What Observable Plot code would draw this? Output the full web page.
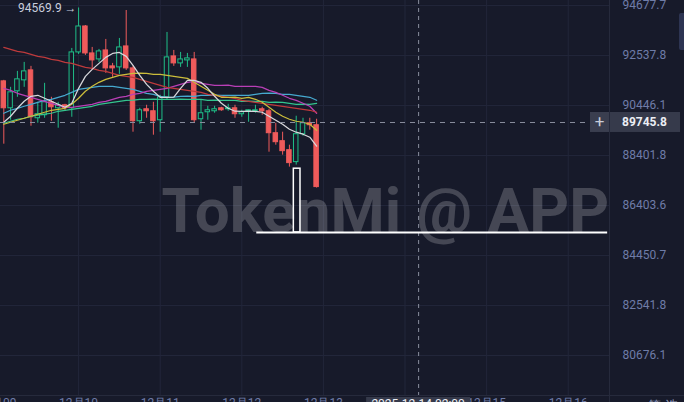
<!DOCTYPE html>
<html><head><meta charset="utf-8">
<script src="https://cdn.jsdelivr.net/npm/d3@7"></script>
<script src="https://cdn.jsdelivr.net/npm/@observablehq/plot@0.6"></script>
<style>
html,body{margin:0;padding:0;background:#171a2a;overflow:hidden;}
#chart{position:relative;width:684px;height:402px;overflow:hidden;}
</style></head><body><div id="chart"></div>
<script>
// ---- candle data (index, open, high, low, close) ----
const candleOpen  = [91450,90331,91035,91492,91910,89920,90044,90579,90331,90455,90331,92668,93774,92625,92372,92752,92078,92036,92922,91994,89797,90290,90208,89838,90786,92499,92204,92330,92372,89879,90167,90208,90331,90290,90331,90085,90208,90208,90290,90208,89307,88982,88617,88134,89266,89715,89634];
const candleHigh  = [91492,91201,91868,92246,92078,90579,91367,90786,90579,90496,92837,94569.9,93816,92880,92795,93220,92204,93262,94461,92078,90331,90455,90579,90869,93518,92752,92668,92625,92668,90661,90414,90414,90373,90496,90455,90249,90270,90455,90373,90290,89715,89348,88819,90003,89920,89920,89879];
const candleLow   = [88860,89838,90786,91201,89593,89715,89920,89797,89511,90208,89961,92583,92541,91994,92246,91785,91617,91743,91910,89348,89674,89920,89226,89348,90661,92078,92036,92036,89715,89429,89838,90126,90208,90208,89920,89961,89756,90126,90044,88536,88819,88416,87933,88014,89185,89429,87095];
const candleClose = [90331,90993,91534,91868,89961,90085,90579,90373,90455,90331,92668,93774,92625,92330,92710,91994,91994,92880,91994,89797,90249,90208,89797,90786,92457,92204,92372,92415,89838,90126,90249,90290,90249,90331,90085,90167,90249,90249,90208,89307,88941,88577,88094,89266,89715,89634,87134];

// ---- moving averages, one value per candle ----
const maWhite   = [89756,90003,90331,90620,90827,90869,90744,90620,90496,90373,90537,91159,91659,91952,92204,92457,92625,92668,92499,92120,91701,91326,91035,90786,90779,90790,91159,91492,91492,91409,91159,90827,90537,90331,90210,90204,90212,90200,90167,90003,89838,89674,89470,89348,89266,89144,88779];
const maYellow  = [89674,89756,89838,89920,90003,90085,90167,90249,90290,90331,90496,90744,91035,91242,91409,91534,91617,91701,91743,91785,91790,91780,91743,91740,91701,91659,91617,91576,91409,91242,91076,90910,90786,90780,90790,90744,90786,90703,90579,90373,90167,90003,89879,89797,89756,89674,89429];
const maCyan    = [90126,90249,90331,90414,90496,90579,90661,90703,90786,90869,90993,91118,91159,91201,91242,91245,91238,91201,91159,91118,91035,90952,90910,90827,90786,90790,90827,90830,90825,90869,90865,90872,90869,90866,90870,90868,90869,90910,90952,90955,90950,90910,90905,90869,90827,90786,90661];
const maMagenta = [91159,91076,90952,90869,90786,90703,90620,90537,90455,90373,90370,90414,90455,90496,90579,90620,90703,90786,90827,90910,90952,91035,91076,91118,91159,91242,91326,91409,91450,91367,91326,91284,91280,91288,91242,91245,91240,91242,91201,91076,90993,90869,90744,90661,90537,90414,90126];
const maGreen   = [89715,89797,89879,89920,90003,90044,90085,90126,90208,90249,90290,90331,90373,90414,90496,90537,90579,90620,90661,90665,90703,90700,90706,90703,90698,90703,90708,90703,90700,90703,90661,90665,90658,90661,90660,90620,90623,90618,90620,90579,90582,90576,90537,90496,90499,90494,90537];
const maRed     = [92879,92794,92710,92668,92583,92499,92457,92372,92330,92246,92204,92120,92036,91994,91910,91868,91785,91701,91659,91617,91534,91450,91367,91284,91201,91159,91118,91076,91035,90993,90910,90869,90827,90786,90744,90661,90620,90579,90537,90496,90455,90414,90373,90331,90290,90249,90167];

// ---- axes ----
const yTickValues = [94677.7,92537.8,90446.1,88401.8,86403.6,84450.7,82541.8,80676.1];
const yTickLabels = ["94677.7","92537.8","90446.1","88401.8","86403.6","84450.7","82541.8","80676.1"];
const xGridIndex  = [-1,11,23,35,47,59,71,83];
const xTickLabels = ["12月09","12月10","12月11","12月12","12月13","12月14","12月15","12月16"];
const cornerLabel = "筛 选";

// ---- crosshair & annotations ----
const crosshairIndex = 61;
const crosshairPrice = 89745.8;
const crosshairTime = "2025-12-14 02:00";
const annotBoxIndex = [42.65, 43.63];
const annotBoxPrice = [87870, 85345];
const annotLineIndex = [37.2, 88.8];
const annotLinePrice = 85345;
const watermark = "TokenMi @ APP";

const BG = "#171a2a", UP = "#1fbf88", DOWN = "#ef5b5b", GRID = "#22263a";

const candles = candleOpen.map((o, i) => ({i, o, h: candleHigh[i], l: candleLow[i], c: candleClose[i], up: candleClose[i] >= o}));
const maxCandle = candles.reduce((a, b) => (b.h > a.h ? b : a));
const maSeries = [
  {v: maGreen, color: "#33c48e"},
  {v: maCyan, color: "#46a9cf"},
  {v: maMagenta, color: "#b93fb6"},
  {v: maRed, color: "#be3a3c"},
  {v: maYellow, color: "#cbbd3b"},
  {v: maWhite, color: "#d8d8dc"}
];

const svg = Plot.plot({
  width: 684, height: 402,
  marginLeft: 0, marginRight: 75, marginTop: 0, marginBottom: 7,
  style: {background: BG, color: "#6f7ca8", fontFamily: "Roboto, 'Liberation Sans', sans-serif", fontSize: "12px"},
  x: {type: "linear", domain: [-0.485, 89.07], axis: null},
  y: {type: "log", domain: [79214, 94894], axis: null},
  marks: [
    Plot.ruleY(yTickValues, {stroke: GRID}),
    Plot.ruleX(xGridIndex, {stroke: GRID}),
    Plot.text([watermark], {frameAnchor: "top-left", dx: 161, dy: 187, lineAnchor: "top", textAnchor: "start",
      text: d => d, fontSize: 62, fontWeight: "bold", fontFamily: "Roboto, sans-serif", fill: "#ffffff", fillOpacity: 0.2}),
    Plot.ruleX(candles, {x: "i", y1: "l", y2: "h", stroke: d => d.up ? UP : DOWN, strokeWidth: 1}),
    Plot.rect(candles, {x1: d => d.i - 0.33, x2: d => d.i + 0.33, y1: "o", y2: "c",
      fill: d => d.up ? BG : DOWN, stroke: d => d.up ? UP : DOWN, strokeWidth: 1}),
    ...maSeries.map(s => Plot.line(s.v, {x: (d, i) => i, y: d => d, stroke: s.color, strokeWidth: 1.25})),
    Plot.ruleY([crosshairPrice], {stroke: "#8a8e9e", strokeDasharray: "5,5"}),
    Plot.ruleX([crosshairIndex], {stroke: "#8a8e9e", strokeDasharray: "4,4"}),
    Plot.rect([0], {x1: annotBoxIndex[0], x2: annotBoxIndex[1], y1: annotBoxPrice[0], y2: annotBoxPrice[1], fill: "none", stroke: "#ffffff", strokeWidth: 1.5}),
    Plot.ruleY([annotLinePrice], {x1: annotLineIndex[0], x2: annotLineIndex[1], stroke: "#ffffff", strokeWidth: 2}),
    Plot.text([maxCandle], {x: "i", y: "h", text: d => d.h.toFixed(1) + " \u2192", textAnchor: "end", dx: -2, fill: "#c9cede", fontSize: 12}),
    Plot.axisY(yTickValues, {anchor: "right", tickSize: 0, tickPadding: 13, tickFormat: d => yTickLabels[yTickValues.indexOf(d)], fill: "#6f7ca8", label: null}),
    Plot.text(xGridIndex, {x: d => d, frameAnchor: "bottom", text: (d, i) => xTickLabels[i], lineAnchor: "top", dy: 3, fill: "#6f7ca8"})
  ]
});

const xs = svg.scale("x"), ys = svg.scale("y");
const g = d3.select(svg).append("g").attr("text-anchor", "start");
// axis separators
g.append("line").attr("x1", 609.5).attr("x2", 609.5).attr("y1", 0).attr("y2", 402).attr("stroke", "#262a3c");
g.append("line").attr("x1", 0).attr("x2", 684).attr("y1", 395.5).attr("y2", 395.5).attr("stroke", "#262a3c");
// crosshair price label
const cy = ys.apply(crosshairPrice);
g.append("rect").attr("x", 590).attr("y", cy - 10).attr("width", 19).attr("height", 20).attr("fill", "#3a3e4f");
g.append("text").attr("x", 599.5).attr("y", cy + 5.5).attr("text-anchor", "middle").attr("fill", "#c8ccd8").attr("font-size", 17).text("+");
g.append("rect").attr("x", 610).attr("y", cy - 10).attr("width", 70).attr("height", 20).attr("fill", "#363a4b");
g.append("text").attr("x", 622).attr("y", cy + 4).attr("text-anchor", "start").attr("fill", "#eceef4").attr("font-weight", "bold").attr("font-size", 12).text(crosshairPrice.toFixed(1));
// crosshair time label
const cx = xs.apply(crosshairIndex);
g.append("rect").attr("x", cx - 52).attr("y", 397).attr("width", 104).attr("height", 10).attr("fill", "#363a4b");
g.append("text").attr("x", cx).attr("y", 408).attr("text-anchor", "middle").attr("fill", "#eceef4").attr("font-size", 12).text(crosshairTime);
// bottom-right label & side tab
g.append("text").attr("x", 663).attr("y", 410).attr("text-anchor", "middle").attr("fill", "#8a93b5").attr("font-size", 13).text(cornerLabel);
g.append("rect").attr("x", 679).attr("y", 13).attr("width", 8).attr("height", 37).attr("rx", 2).attr("fill", "#2d3452");

document.getElementById("chart").appendChild(svg);
</script>
</body></html>
